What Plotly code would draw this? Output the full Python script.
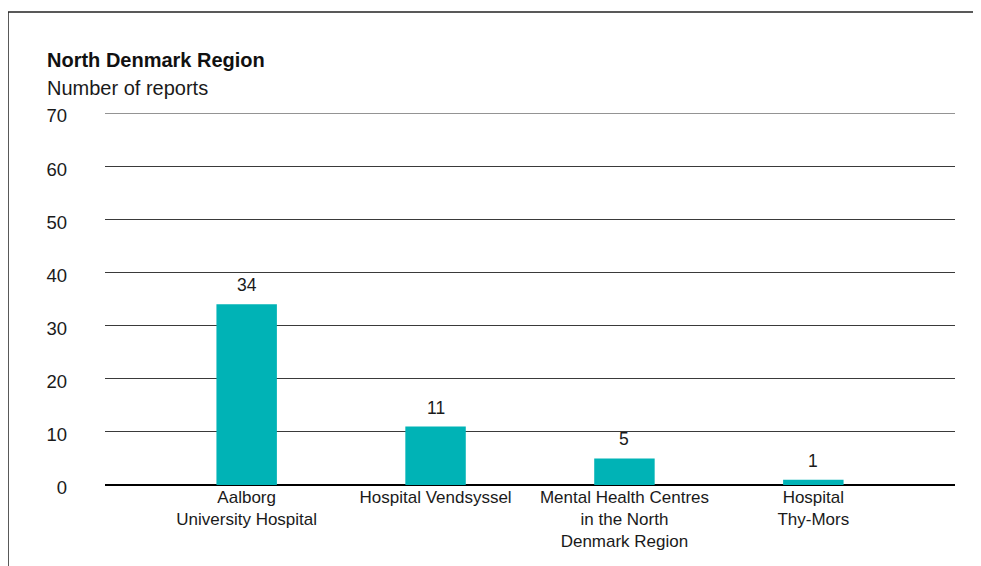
import plotly.graph_objects as go

categories = ["Aalborg<br>University Hospital", "Hospital Vendsyssel",
              "Mental Health Centres<br>in the North<br>Denmark Region", "Hospital<br>Thy-Mors"]
values = [34, 11, 5, 1]
y_ticks = [0, 10, 20, 30, 40, 50, 60, 70]

# page body has an 8px margin; figure sized to fill the rest of the window
OFF = 8
W, H = 981 - OFF, 566 - OFF
L, R, T, B = 105 - OFF, 26, 113 - OFF, 81
pw, ph = W - L - R, H - T - B

def px(sx):
    return (sx - OFF - L) / pw

def py(sy):
    return 1 - (sy - OFF - T) / ph

FONT = "Liberation Sans, Arial, sans-serif"
BAR = "#00B3B6"
TXT = "#1a1a1a"

fig = go.Figure()
fig.add_trace(go.Bar(
    x=list(range(len(categories))), y=values, width=0.32,
    marker=dict(color=BAR, line=dict(width=0)),
    hoverinfo="skip",
))

for i, v in enumerate(values):
    fig.add_annotation(x=i, y=v, xref="x", yref="y", text=str(v), showarrow=False,
                       yanchor="bottom", yshift=7,
                       font=dict(family=FONT, size=17.5, color=TXT))

fig.update_layout(
    width=W, height=H,
    margin=dict(l=L, r=R, t=T, b=B),
    paper_bgcolor="white", plot_bgcolor="white",
    showlegend=False,
    font=dict(family=FONT, size=16, color=TXT),
    xaxis=dict(
        range=[-0.75, 3.75], tickmode="array",
        tickvals=list(range(len(categories))), ticktext=categories,
        showgrid=False, zeroline=False, showline=False, ticks="",
        tickfont=dict(family=FONT, size=17, color=TXT),
        fixedrange=True,
    ),
    yaxis=dict(
        range=[0, 70], tickmode="array", tickvals=y_ticks,
        showgrid=True, gridcolor="#3a3a3a", gridwidth=1,
        zeroline=True, zerolinecolor="#000000", zerolinewidth=2,
        showline=False, ticks="", ticklabelstandoff=37, ticklabelshift=3,
        tickfont=dict(family=FONT, size=18.5, color=TXT),
        fixedrange=True,
    ),
    shapes=[
        dict(type="line", xref="paper", yref="paper",
             x0=px(8), x1=px(1000), y0=py(12), y1=py(12),
             line=dict(color="#222222", width=1.5)),
        dict(type="line", xref="paper", yref="paper",
             x0=px(8), x1=px(8), y0=py(12), y1=py(600),
             line=dict(color="#222222", width=1.5)),
        dict(type="line", xref="paper", yref="y",
             x0=0, x1=1, y0=y_ticks[-1], y1=y_ticks[-1],
             line=dict(color="#2a2a2a", width=1.2)),
    ],
)

fig.add_annotation(xref="paper", yref="paper", x=px(45), y=py(60), xanchor="left", yanchor="middle",
                   text="<b>North Denmark Region</b>", showarrow=False,
                   font=dict(family=FONT, size=20, color="#111111"))
fig.add_annotation(xref="paper", yref="paper", x=px(45), y=py(88), xanchor="left", yanchor="middle",
                   text="Number of reports", showarrow=False,
                   font=dict(family=FONT, size=20, color=TXT))

fig.write_html("out.html")
